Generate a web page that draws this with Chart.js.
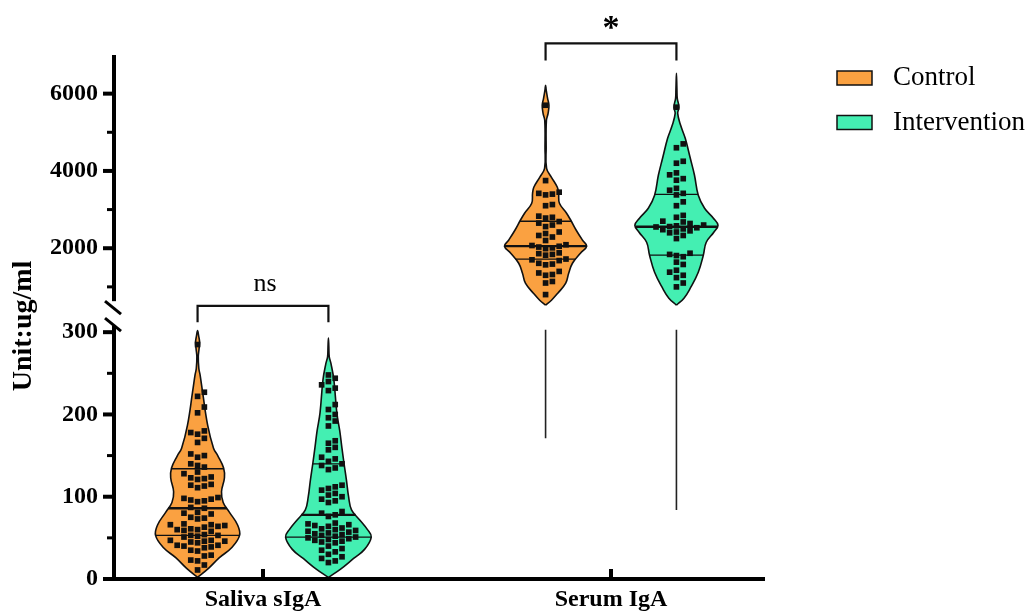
<!DOCTYPE html>
<html>
<head>
<meta charset="utf-8">
<script src="https://cdn.jsdelivr.net/npm/chart.js@4.4.1/dist/chart.umd.min.js"></script>
<style>
  html, body { margin: 0; padding: 0; background: #fff; }
  #wrap { width: 1029px; height: 612px; }
</style>
</head>
<body>
<div id="wrap"><canvas id="chart" width="1029" height="612"></canvas></div>
<script>
// Categories / groups
const categories = ['Saliva sIgA', 'Serum IgA'];
const groups = ['Control', 'Intervention'];
const groupColors = ['#FAA141', '#44EFB2'];
const significance = ['ns', '*'];

// Broken y axis: 0-300 in the lower panel, 500-7000 in the upper one
const yTickValues = [0, 100, 200, 300, 2000, 4000, 6000];
const yTickLabels = ['0', '100', '200', '300', '2000', '4000', '6000'];
const yMinorValues = [50, 150, 250, 1000, 3000, 5000];

// Individual values (ug/ml)
const salivaControl = [285, 227, 222, 209, 202, 180, 178, 176, 171, 166, 152, 150, 148, 140, 138, 136,
  130, 128, 124, 123, 122, 121, 115, 114, 113, 111, 99, 98, 97, 96, 95, 94, 87, 86, 81, 80, 79, 75,
  74, 73, 67, 66, 66, 65, 64, 63, 61, 60, 60, 59, 58, 54, 53, 53, 52, 51, 47, 47, 46, 46, 45, 44,
  41, 41, 40, 39, 38, 35, 34, 29, 28, 23, 22, 17, 11];
const salivaIntervention = [248, 244, 240, 236, 232, 229, 212, 206, 200, 196, 192, 186, 168, 165, 160,
  157, 148, 146, 143, 140, 138, 135, 133, 114, 112, 110, 108, 104, 102, 100, 97, 95, 93, 82, 80, 78,
  76, 68, 67, 66, 65, 64, 62, 61, 60, 59, 58, 57, 56, 55, 54, 53, 52, 51, 50, 49, 48, 47, 46, 45,
  44, 40, 37, 35, 33, 30, 27, 25, 22, 20];
const serumControl = [5700, 3750, 3450, 3420, 3400, 3380, 3130, 3100, 2830, 2800, 2780, 2690, 2650,
  2600, 2560, 2420, 2380, 2330, 2290, 2200, 2090, 2070, 2050, 2030, 2010, 1990, 1880, 1860, 1840,
  1820, 1720, 1700, 1680, 1610, 1590, 1570, 1400, 1360, 1320, 1300, 1140, 1100, 800];
const serumIntervention = [5650, 4700, 4600, 4250, 4200, 3950, 3900, 3800, 3760, 3550, 3500, 3420,
  3380, 3200, 3100, 2850, 2800, 2700, 2680, 2640, 2600, 2580, 2560, 2550, 2530, 2500, 2480, 2450,
  2420, 2400, 2330, 2250, 1870, 1840, 1810, 1780, 1640, 1580, 1430, 1380, 1300, 1240, 1100, 1000];

// Violin outlines: [value, relative density]
const salivaControlShape = [[2, 0], [13, .26], [26, .52], [38, .81], [53, 1], [66, .95], [81, .76],
  [93, .61], [106, .57], [123, .64], [135, .62], [150, .48], [159, .38], [187, .24], [227, .12],
  [248, .06], [256, .03], [270, .017], [280, .036], [288, .048], [296, .024], [302, 0]];
const salivaInterventionShape = [[2, 0], [12, .29], [25, .6], [36, .86], [51, 1.02], [60, .93],
  [72, .74], [84, .55], [100, .48], [120, .43], [141, .37], [160, .32], [180, .27], [202, .2],
  [242, .13], [262, .06], [270, .02], [282, .01], [293, 0]];
const serumControlShape = [[526, 0], [655, .14], [836, .29], [1095, .48], [1354, .55], [1612, .64],
  [1871, .83], [2052, .98], [2207, .88], [2465, .73], [2724, .6], [2905, .5], [3164, .33],
  [3422, .31], [3577, .28], [3836, .14], [4069, .024], [4600, .014], [5310, .02], [5491, .06],
  [5697, .08], [5879, .048], [6100, .014], [6215, 0]];
const serumInterventionShape = [[526, 0], [707, .18], [966, .33], [1379, .52], [1819, .64],
  [2155, .71], [2414, .89], [2595, .99], [2776, .88], [3034, .67], [3370, .52], [3888, .43],
  [4327, .33], [4844, .21], [5180, .1], [5490, .03], [5650, .06], [5879, .02], [6100, .012], [6525, 0]];

// Quartiles [Q1, median, Q3]
const salivaControlQ = [53, 86, 134];
const salivaInterventionQ = [51, 78, 140];
const serumControlQ = [1716, 2052, 2698];
const serumInterventionQ = [1819, 2556, 3396];

// serum violins continue as a thin tail into the lower panel down to these values
const serumTailMin = [171, 84];

const points = [[salivaControl, salivaIntervention], [serumControl, serumIntervention]];
const shapes = [[salivaControlShape, salivaInterventionShape], [serumControlShape, serumInterventionShape]];
const quartiles = [[salivaControlQ, salivaInterventionQ], [serumControlQ, serumInterventionQ]];

// ---- layout constants ----
const LOW_K = 247 / 300;          // virtual units per ug/ml, lower panel
const HIGH_FROM = 500, HIGH_V0 = 273, HIGH_K = 212.7 / 5500;
const Y_TOP = 7000;
const X_MIN = -0.431, X_MAX = 1.4425;
const PX_PER_X = 652 / (X_MAX - X_MIN);
const GROUP_OFFSET = 0.188;
const HALF_W = 42 / PX_PER_X;      // half width of a violin at density 1
const PT_SIDE = 5.6;
const SWARM_STEP = 6.8 / PX_PER_X;
const AXIS_LOW_END = 308, AXIS_HIGH_END = 630;
const SERIF = "'Liberation Serif', 'Times New Roman', serif";

function toV(v) {
  return v < 450 ? v * LOW_K : HIGH_V0 + (v - HIGH_FROM) * HIGH_K;
}

function violinPath(profile, cx) {
  const right = profile.map(([v, d]) => ({ x: cx + d * HALF_W, y: toV(v) }));
  const left = profile.slice().reverse().map(([v, d]) => ({ x: cx - d * HALF_W, y: toV(v) }));
  return right.concat(left.slice(1));
}

function widthAt(profile, v) {
  for (let i = 1; i < profile.length; i++) {
    const [v0, d0] = profile[i - 1], [v1, d1] = profile[i];
    if (v >= v0 && v <= v1) return d0 + (d1 - d0) * (v - v0) / (v1 - v0);
  }
  return 0;
}

// simple beeswarm so the squares don't overlap
function swarm(values, cx) {
  const placed = [];
  return values.slice().sort((a, b) => a - b).map(v => {
    const y = toV(v);
    for (let k = 0; k < 60; k++) {
      const slot = k === 0 ? 0 : (k % 2 ? Math.ceil(k / 2) : -k / 2);
      if (!placed.some(p => p.slot === slot && Math.abs(p.y - y) < PT_SIDE + 0.4)) {
        placed.push({ slot, y });
        return { x: cx + slot * SWARM_STEP, y };
      }
    }
  });
}

const datasets = [];
categories.forEach((cat, ci) => {
  groups.forEach((g, gi) => {
    const cx = ci + (gi ? 1 : -1) * GROUP_OFFSET;
    const shape = shapes[ci][gi];
    datasets.push({
      type: 'line', label: g, data: violinPath(shape, cx), showLine: true,
      fill: 'shape', backgroundColor: groupColors[gi], borderColor: '#111', borderWidth: 1.6,
      tension: 0.4, pointRadius: 0, order: 4
    });
    quartiles[ci][gi].forEach((q, qi) => {
      const w = widthAt(shape, q) * HALF_W;
      datasets.push({
        type: 'line', data: [{ x: cx - w, y: toV(q) }, { x: cx + w, y: toV(q) }], showLine: true,
        borderColor: '#111', borderWidth: qi === 1 ? 2.3 : 1.3, pointRadius: 0, fill: false, order: 3
      });
    });
    datasets.push({
      type: 'scatter', data: swarm(points[ci][gi], cx), pointStyle: 'rect', pointRadius: 4,
      backgroundColor: '#111', borderWidth: 0, order: 1
    });
  });
});

// thin serum tails in the lower panel
serumTailMin.forEach((m, gi) => {
  const cx = 1 + (gi ? 1 : -1) * GROUP_OFFSET;
  datasets.push({
    type: 'line', data: [{ x: cx, y: toV(303) }, { x: cx, y: toV(m) }], showLine: true,
    borderColor: '#222', borderWidth: 1.6, pointRadius: 0, fill: false, order: 3
  });
});

// significance brackets
const bracketTop = [332, 7300], bracketLeg = [312, 6860];
categories.forEach((cat, ci) => {
  const x0 = ci - GROUP_OFFSET, x1 = ci + GROUP_OFFSET;
  datasets.push({
    type: 'line', showLine: true, clip: false, tension: 0,
    data: [{ x: x0, y: toV(bracketLeg[ci]) }, { x: x0, y: toV(bracketTop[ci]) },
           { x: x1, y: toV(bracketTop[ci]) }, { x: x1, y: toV(bracketLeg[ci]) }],
    borderColor: '#111', borderWidth: 2.2, pointRadius: 0, fill: false, order: 3
  });
});
const sigLabelY = [357, 7843];

function seg(ctx, x0, y0, x1, y1) {
  ctx.beginPath(); ctx.moveTo(x0, y0); ctx.lineTo(x1, y1); ctx.stroke();
}
function centerText(ctx, text, x, y) {
  const m = ctx.measureText(text);
  ctx.fillText(text, x, y + (m.actualBoundingBoxAscent - m.actualBoundingBoxDescent) / 2);
}

const decorations = {
  id: 'decorations',
  afterDraw(chart) {
    const { ctx, chartArea, scales: { x, y } } = chart;
    const py = v => y.getPixelForValue(toV(v));
    const ax = chartArea.left + 1;
    ctx.save();
    ctx.strokeStyle = '#000';
    ctx.fillStyle = '#000';

    // y axis, two pieces
    ctx.lineWidth = 4;
    seg(ctx, ax, py(AXIS_LOW_END), ax, py(0));
    seg(ctx, ax, py(Y_TOP), ax, py(AXIS_HIGH_END));
    // break marks
    ctx.lineWidth = 3;
    [py(AXIS_HIGH_END) + 6.5, py(AXIS_LOW_END) - 1].forEach(yc => seg(ctx, ax - 9, yc - 6.5, ax + 7, yc + 6.5));
    // ticks
    ctx.lineWidth = 4;
    yTickValues.forEach(v => seg(ctx, ax - 11, py(v), ax, py(v)));
    ctx.lineWidth = 3;
    yMinorValues.forEach(v => seg(ctx, ax - 7, py(v), ax, py(v)));

    // x axis
    ctx.lineWidth = 4;
    seg(ctx, ax - 2, py(0), chartArea.right, py(0));
    categories.forEach((c, ci) => {
      const px = x.getPixelForValue(ci);
      seg(ctx, px, py(0), px, py(0) - 10);
    });

    // y title
    ctx.save();
    ctx.translate(31, 326);
    ctx.rotate(-Math.PI / 2);
    ctx.font = `bold 28px ${SERIF}`;
    ctx.textAlign = 'center';
    ctx.textBaseline = 'alphabetic';
    ctx.fillText('Unit:ug/ml', 0, 0);
    ctx.restore();

    // significance labels
    ctx.textAlign = 'center';
    ctx.textBaseline = 'alphabetic';
    ctx.font = `26px ${SERIF}`;
    centerText(ctx, significance[0], x.getPixelForValue(0) + 2, py(sigLabelY[0]));
    ctx.font = `bold 34px ${SERIF}`;
    centerText(ctx, significance[1], x.getPixelForValue(1), py(sigLabelY[1]));

    // legend
    const legendY = [78, 122.5];
    groups.forEach((g, gi) => {
      ctx.fillStyle = groupColors[gi];
      ctx.fillRect(837, legendY[gi] - 7, 35, 14);
      ctx.lineWidth = 1.5;
      ctx.strokeStyle = '#111';
      ctx.strokeRect(837, legendY[gi] - 7, 35, 14);
      ctx.fillStyle = '#000';
      ctx.font = `27px ${SERIF}`;
      ctx.textAlign = 'left';
      ctx.textBaseline = 'middle';
      ctx.fillText(g, 893, legendY[gi]);
    });
    ctx.restore();
  }
};

new Chart(document.getElementById('chart'), {
  type: 'scatter',
  data: { datasets },
  options: {
    responsive: false,
    animation: false,
    layout: { padding: { top: 55, right: 264, bottom: 0, left: 0 } },
    plugins: { legend: { display: false }, tooltip: { enabled: false } },
    scales: {
      x: {
        type: 'linear', min: X_MIN, max: X_MAX,
        afterBuildTicks: s => { s.ticks = categories.map((c, i) => ({ value: i })); },
        afterFit: s => { s.height = 33; },
        ticks: {
          callback: (v, i) => categories[i], autoSkip: false, maxRotation: 0,
          font: { family: SERIF, size: 24, weight: 'bold' }, color: '#000', padding: 6
        },
        grid: { display: false, drawTicks: false },
        border: { display: false }
      },
      y: {
        type: 'linear', min: 0, max: toV(Y_TOP),
        afterBuildTicks: s => { s.ticks = yTickValues.map(v => ({ value: toV(v) })); },
        afterFit: s => { s.width = 113; },
        ticks: {
          callback: (v, i) => yTickLabels[i],
          font: { family: SERIF, size: 24, weight: 'bold' }, color: '#000', padding: 15
        },
        grid: { display: false, drawTicks: false },
        border: { display: false }
      }
    }
  },
  plugins: [decorations]
});
</script>
</body>
</html>
